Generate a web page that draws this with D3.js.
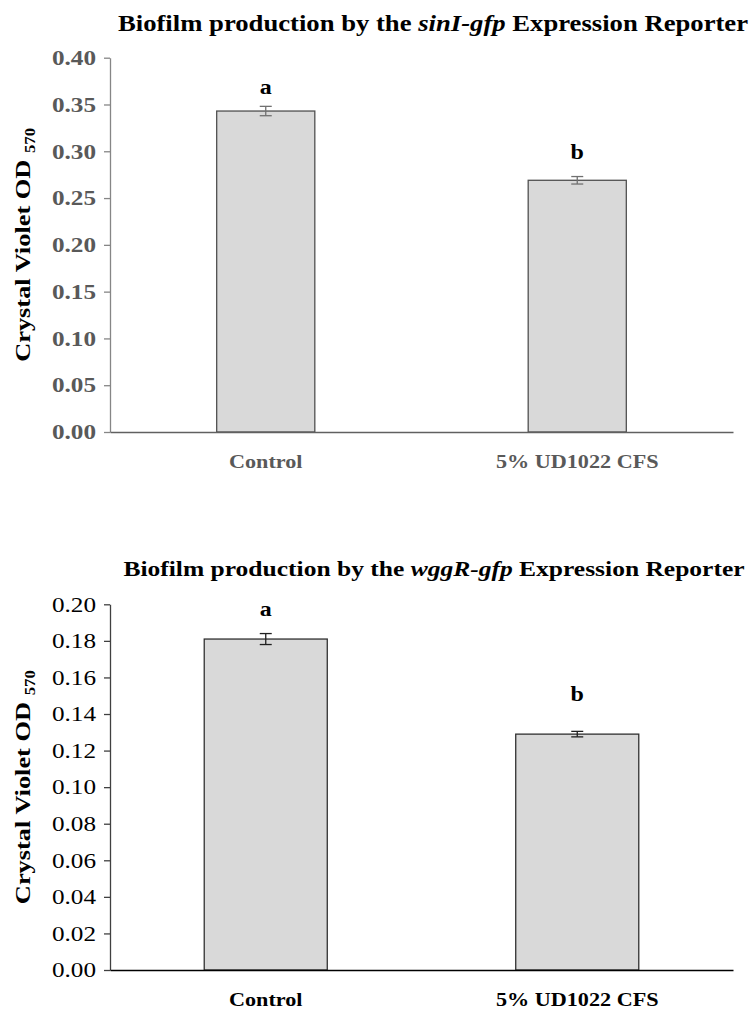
<!DOCTYPE html>
<html>
<head>
<meta charset="utf-8">
<script src="https://cdn.jsdelivr.net/npm/d3@7"></script>
<style>
  body { margin: 0; background: #fff; }
  svg { display: block; }
</style>
</head>
<body>
<svg id="chart" width="754" height="1010"></svg>
<script>
const FONT = '"Liberation Serif", Tinos, "Times New Roman", Times, "DejaVu Serif", serif';
const K = 1.2;       // horizontal text stretch seen in the reference
const KT = 1.16;     // title stretch
// ---- data ----
const categories = ["Control", "5% UD1022 CFS"];

const sinIValues = [0.343, 0.269];
const sinIErrors = [0.005, 0.004];
const sinILetters = ["a", "b"];
const sinITicks = [0.00, 0.05, 0.10, 0.15, 0.20, 0.25, 0.30, 0.35, 0.40];

const wggRValues = [0.181, 0.129];
const wggRErrors = [0.003, 0.0015];
const wggRLetters = ["a", "b"];
const wggRTicks = [0.00, 0.02, 0.04, 0.06, 0.08, 0.10, 0.12, 0.14, 0.16, 0.18, 0.20];

const svg = d3.select("#chart");

function drawPanel(cfg) {
  const g = svg.append("g");
  const x = d3.scaleBand().domain(categories)
    .range([cfg.left, cfg.right])
    .paddingInner(cfg.padInner).paddingOuter(cfg.padInner / 2);
  const y = d3.scaleLinear().domain([0, cfg.max]).range([cfg.bottom, cfg.top]);

  // title
  const t = g.append("text")
    .attr("transform", `translate(${cfg.titleX},${cfg.titleY}) scale(${KT},1)`)
    .attr("text-anchor", "middle")
    .style("font-family", FONT)
    .style("font-size", cfg.titleSize + "px").style("font-weight", "bold").attr("fill", "#000");
  t.append("tspan").text("Biofilm production by the ");
  t.append("tspan").style("font-style", "italic").text(cfg.gene);
  t.append("tspan").text(" Expression Reporter");

  // bars
  g.selectAll("rect.bar").data(cfg.values).join("rect")
    .attr("class", "bar")
    .attr("x", (d, i) => x(categories[i]))
    .attr("y", d => y(d))
    .attr("width", x.bandwidth())
    .attr("height", d => y(0) - y(d))
    .attr("fill", "#d9d9d9")
    .attr("stroke", cfg.barStroke).attr("stroke-width", 1.3);

  // error bars
  const cx = i => x(categories[i]) + x.bandwidth() / 2;
  cfg.values.forEach((v, i) => {
    const e = cfg.errors[i];
    const col = cfg.errColor;
    g.append("line").attr("x1", cx(i)).attr("x2", cx(i))
      .attr("y1", y(v + e)).attr("y2", y(v - e)).attr("stroke", col).attr("stroke-width", 1.3);
    g.append("line").attr("x1", cx(i) - 6).attr("x2", cx(i) + 6)
      .attr("y1", y(v + e)).attr("y2", y(v + e)).attr("stroke", col).attr("stroke-width", 1.3);
    g.append("line").attr("x1", cx(i) - 6).attr("x2", cx(i) + 6)
      .attr("y1", y(v - e)).attr("y2", y(v - e)).attr("stroke", col).attr("stroke-width", 1.3);
    g.append("text")
      .attr("transform", `translate(${cx(i)},${y(v + e) - cfg.letterGap[i]}) scale(${K},1)`)
      .attr("text-anchor", "middle")
      .style("font-family", FONT)
      .style("font-size", "20px").style("font-weight", "bold").attr("fill", "#000")
      .text(cfg.letters[i]);
  });

  // y axis
  const ya = g.append("g").attr("transform", `translate(${cfg.left},0)`)
    .call(d3.axisLeft(y).tickValues(cfg.ticks).tickFormat(d3.format(".2f")).tickSize(6).tickSizeOuter(0));
  ya.select(".domain").attr("stroke", cfg.yAxisColor).attr("stroke-width", 1.3);
  ya.selectAll(".tick line").attr("stroke", cfg.yAxisColor).attr("stroke-width", 1.3);
  ya.selectAll(".tick text")
    .attr("x", 0)
    .attr("transform", `translate(-14,0) scale(${K},1)`)
    .style("font-family", FONT)
    .style("font-size", "21px").style("font-weight", cfg.tickWeight)
    .attr("fill", cfg.tickColor);

  // x axis
  const xa = g.append("g").attr("transform", `translate(0,${cfg.bottom})`)
    .call(d3.axisBottom(x).tickSize(0).tickSizeOuter(0));
  xa.select(".domain").attr("stroke", cfg.xAxisColor).attr("stroke-width", 1.5);
  xa.selectAll(".tick text")
    .attr("y", 0)
    .attr("transform", `translate(0,${cfg.xLabelDy}) scale(${K},1)`)
    .style("font-family", FONT)
    .style("font-size", "18.5px").style("font-weight", "bold")
    .attr("fill", cfg.xLabelColor);

  // y label
  const yl = g.append("text")
    .attr("transform", `translate(${cfg.yLabelX},${(cfg.top + cfg.bottom) / 2}) rotate(-90) scale(${K},1)`)
    .attr("text-anchor", "middle")
    .style("font-family", FONT)
    .style("font-size", "22px").style("font-weight", "bold").attr("fill", "#000");
  yl.append("tspan").text("Crystal Violet OD ");
  yl.append("tspan").attr("dy", 5).style("font-size", "14px").text("570");
}

drawPanel({
  left: 110, right: 733, top: 57.7, bottom: 432, max: 0.40, padInner: 0.685,
  values: sinIValues, errors: sinIErrors, letters: sinILetters, ticks: sinITicks,
  gene: "sinI-gfp", titleX: 433, titleY: 31, titleSize: 23, letterGap: [12, 18],
  barStroke: "#505050",
  errColor: "#707070", yAxisColor: "#868686", xAxisColor: "#606060",
  tickColor: "#595959", tickWeight: "bold", xLabelColor: "#595959", xLabelDy: 23,
  yLabelX: 30
});

drawPanel({
  left: 110, right: 733, top: 604.3, bottom: 970, max: 0.20, padInner: 0.605,
  values: wggRValues, errors: wggRErrors, letters: wggRLetters, ticks: wggRTicks,
  gene: "wggR-gfp", titleX: 434, titleY: 576, titleSize: 22, letterGap: [18, 30],
  barStroke: "#303030",
  errColor: "#202020", yAxisColor: "#404040", xAxisColor: "#000",
  tickColor: "#000", tickWeight: "normal", xLabelColor: "#000", xLabelDy: 23,
  yLabelX: 30
});
</script>
</body>
</html>
